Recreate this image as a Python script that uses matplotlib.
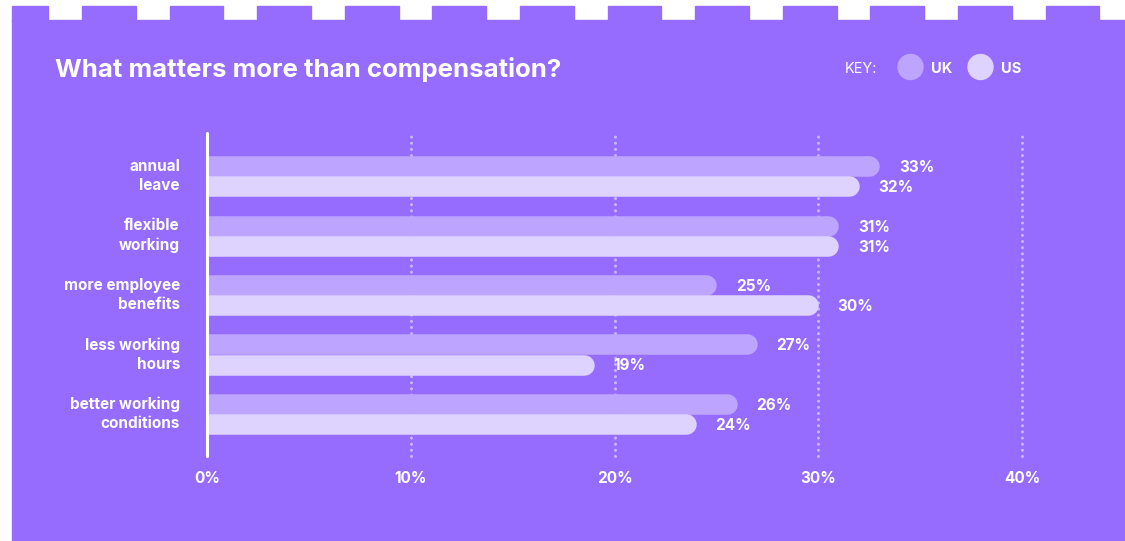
import matplotlib
matplotlib.use("Agg")
import matplotlib.pyplot as plt
from matplotlib.patches import Rectangle, Ellipse

# data
categories = ["annual\nleave", "flexible\nworking", "more employee\nbenefits",
              "less working\nhours", "better working\nconditions"]
uk = [33, 31, 25, 27, 26]
us = [32, 31, 30, 19, 24]
ticks = [0, 10, 20, 30, 40]
tick_labels = ["0%", "10%", "20%", "30%", "40%"]

BG = "#966CFF"
UK_C = "#BDA5FF"
US_C = "#DED3FF"
GRID_C = "#C9B6FF"
FONT = "Inter"

W, H = 1125, 541
fig = plt.figure(figsize=(W / 100, H / 100), dpi=100, facecolor="white")


def fx(x):
    return x / W


def fy(y):
    return 1 - y / H


# purple panel with tabs along the top
fig.patches.append(Rectangle((fx(12), fy(541)), fx(1125 - 12), (541 - 20) / H,
                             transform=fig.transFigure, color=BG, zorder=-5))
tab_starts = [12] + [82 + 87.6 * k for k in range(12)]
for i, t in enumerate(tab_starts):
    w = 36 if i == 0 else 53.8
    fig.patches.append(Rectangle((fx(t), fy(20.5)), fx(w), 14.5 / H,
                                 transform=fig.transFigure, color=BG, zorder=-5))

# title + key
fig.text(fx(55), fy(70), "What matters more than compensation?", color="white",
         fontsize=18.6, fontweight="bold", family=FONT, va="center", ha="left")
fig.text(fx(845), fy(69), "KEY:", color="white", fontsize=10.5, family=FONT,
         va="center", ha="left")
for cx, col, lab in [(910.5, UK_C, "UK"), (980.5, US_C, "US")]:
    fig.patches.append(Ellipse((fx(cx), fy(67)), 25 / W, 25 / H,
                               transform=fig.transFigure, color=col, zorder=1))
    fig.text(fx(cx + 20), fy(69), lab, color="white", fontsize=10.5,
             fontweight="bold", family=FONT, va="center", ha="left")

# main axes
x0, x1, ytop, ybot = 207, 1022, 133, 456
ax = fig.add_axes([fx(x0), fy(ybot), (x1 - x0) / W, (ybot - ytop) / H])
ax.set_facecolor("none")
ax.set_xlim(0, 40)
ax.set_ylim(4.71, -0.73)
for s in ax.spines.values():
    s.set_visible(False)
ax.set_xticks([])
ax.set_yticks([])

px_per_unit = (x1 - x0) / 40
bar_px = 20.5
lw = bar_px * 72 / 100
r = bar_px / 2 / px_per_unit
off = 0.17

for t in ticks[1:]:
    ax.plot([t, t], [4.71, -0.73], color=GRID_C, lw=2.2, linestyle=(0, (0.01, 2.0)),
            dash_capstyle="round", zorder=1, clip_on=False)

for i, (cat, a, b) in enumerate(zip(categories, uk, us)):
    for val, yy, col in [(a, i - off, UK_C), (b, i + off, US_C)]:
        ax.plot([-1, val - r], [yy, yy], color=col, lw=lw, solid_capstyle="round",
                zorder=2)
        ax.annotate(f"{val}%", (val, yy), xytext=(14, -1), textcoords="offset points",
                    color="white", fontsize=11, fontweight="bold", family=FONT,
                    va="center", ha="left", annotation_clip=False)
    ax.text(-27 / px_per_unit, i, cat, color="white", fontsize=11,
            fontweight="bold", family=FONT, ha="right", va="center",
            linespacing=1.35)

ax.plot([0, 0], [4.71, -0.73], color="white", lw=2.2, solid_capstyle="round",
        zorder=3, clip_on=False)

for t, lab in zip(ticks, tick_labels):
    ax.text(t, 5.09, lab, color="white", fontsize=11, fontweight="bold",
            family=FONT, ha="center", va="center")

fig.savefig("out.png", dpi=100, facecolor="white")
